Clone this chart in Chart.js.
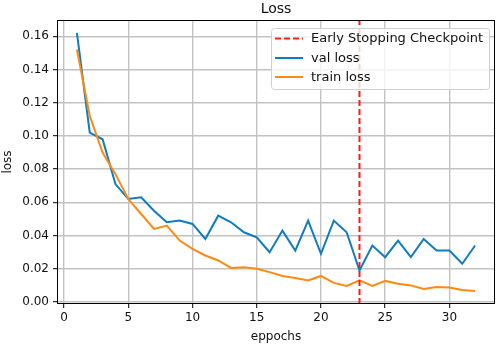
<!DOCTYPE html>
<html>
<head>
<meta charset="utf-8">
<script src="https://cdn.jsdelivr.net/npm/chart.js@4.4.1/dist/chart.umd.min.js"></script>
<style>
  html, body { margin: 0; padding: 0; background: #fff; }
  #wrap { width: 498px; height: 348px; position: relative; }
</style>
</head>
<body>
<div id="wrap"><canvas id="lossChart"></canvas></div>
<script>
// epochs 1..32
const epochs = [1,2,3,4,5,6,7,8,9,10,11,12,13,14,15,16,17,18,19,20,21,22,23,24,25,26,27,28,29,30,31,32];

const valLoss = [0.162, 0.102, 0.098, 0.071, 0.062, 0.063, 0.055, 0.048, 0.049, 0.047,
                 0.038, 0.052, 0.048, 0.042, 0.039, 0.030, 0.043, 0.031, 0.049, 0.029,
                 0.049, 0.042, 0.019, 0.034, 0.027, 0.037, 0.027, 0.038, 0.031, 0.031,
                 0.023, 0.034];

const trainLoss = [0.152, 0.112, 0.090, 0.077, 0.062, 0.053, 0.044, 0.046, 0.037, 0.032,
                   0.028, 0.025, 0.0205, 0.021, 0.020, 0.018, 0.0157, 0.0145, 0.013, 0.0157,
                   0.0115, 0.0097, 0.013, 0.0097, 0.0127, 0.011, 0.010, 0.0078, 0.009, 0.0087,
                   0.0072, 0.0066];

const stopEpoch = 23;

const xTicks = [0, 5, 10, 15, 20, 25, 30];
const yTicks = [0, 0.02, 0.04, 0.06, 0.08, 0.10, 0.12, 0.14, 0.16];
const xMin = -0.55, xMax = 33.55;
const yMin = -0.0012, yMax = 0.1698;

const font = "'DejaVu Sans', sans-serif";

// legend entries (label, color, dashed)
const legendItems = [
    ["Early Stopping Checkpoint", "#ff1a1a", true],
    ["val loss", "#0e7cc0", false],
    ["train loss", "#ff8a12", false]
];

// frame, title and legend box drawn on top
const decorations = {
    id: "decorations",
    afterDraw(chart) {
        const { ctx, chartArea: a } = chart;
        ctx.save();

        // black frame
        ctx.strokeStyle = "#000";
        ctx.lineWidth = 1;
        ctx.strokeRect(a.left + 0.5, a.top + 0.5, a.right - a.left - 1, a.bottom - a.top - 1);

        // title
        ctx.fillStyle = "#111";
        ctx.font = "14px " + font;
        ctx.textAlign = "center";
        ctx.textBaseline = "middle";
        ctx.fillText("Loss", (a.left + a.right) / 2, 9);

        // legend box
        const bx = 271, by = 28, bw = 218, bh = 61;
        ctx.beginPath();
        ctx.roundRect(bx + 0.5, by + 0.5, bw, bh, 3);
        ctx.fillStyle = "rgba(255,255,255,0.8)";
        ctx.fill();
        ctx.strokeStyle = "#d0d0d0";
        ctx.lineWidth = 1;
        ctx.stroke();

        const rows = [38.5, 58, 77];
        ctx.font = "13px " + font;
        ctx.textAlign = "left";
        legendItems.forEach(([label, color, dashed], i) => {
            ctx.beginPath();
            ctx.setLineDash(dashed ? [6, 3] : []);
            ctx.strokeStyle = color;
            ctx.lineWidth = 2;
            ctx.moveTo(275, rows[i]);
            ctx.lineTo(303, rows[i]);
            ctx.stroke();
            ctx.setLineDash([]);
            ctx.fillStyle = "#111";
            ctx.fillText(label, 311, rows[i] + 0.5);
        });

        ctx.restore();
    }
};

new Chart(document.getElementById("lossChart"), {
    type: "line",
    data: {
        datasets: [
            {
                label: legendItems[0][0],
                data: [{ x: stopEpoch, y: yMin }, { x: stopEpoch, y: yMax }],
                borderColor: legendItems[0][1],
                borderWidth: 2,
                borderDash: [6, 3],
                pointRadius: 0,
                order: 0
            },
            {
                label: legendItems[1][0],
                data: epochs.map((e, i) => ({ x: e, y: valLoss[i] })),
                borderColor: legendItems[1][1],
                borderWidth: 2,
                pointRadius: 0,
                tension: 0,
                order: 2
            },
            {
                label: legendItems[2][0],
                data: epochs.map((e, i) => ({ x: e, y: trainLoss[i] })),
                borderColor: legendItems[2][1],
                borderWidth: 2,
                pointRadius: 0,
                tension: 0,
                order: 1
            }
        ]
    },
    options: {
        responsive: true,
        maintainAspectRatio: false,
        animation: false,
        layout: { padding: { top: 20, right: 3, left: 0, bottom: 0 } },
        plugins: {
            legend: { display: false },
            title: { display: false },
            tooltip: { enabled: false }
        },
        scales: {
            x: {
                type: "linear",
                min: xMin,
                max: xMax,
                afterBuildTicks: s => { s.ticks = xTicks.map(v => ({ value: v })); },
                afterFit: s => { s.height = 44; },
                grid: { color: "#c2c2c2", lineWidth: 1.4, tickLength: 4, tickColor: "#000", tickWidth: 1 },
                border: { display: false },
                ticks: { color: "#111", font: { family: font, size: 12 }, padding: 3, maxRotation: 0, autoSkip: false },
                title: { display: true, text: "eppochs", color: "#111", font: { family: font, size: 12 }, padding: { bottom: 4 } }
            },
            y: {
                type: "linear",
                min: yMin,
                max: yMax,
                afterBuildTicks: s => { s.ticks = yTicks.map(v => ({ value: v })); },
                afterFit: s => { s.width = 57; },
                grid: { color: "#c2c2c2", lineWidth: 1.4, tickLength: 4, tickColor: "#000", tickWidth: 1 },
                border: { display: false },
                ticks: { color: "#111", font: { family: font, size: 12 }, padding: 4, autoSkip: false,
                         callback: v => v.toFixed(2) },
                title: { display: true, text: "loss", color: "#111", font: { family: font, size: 12 }, padding: { top: 1 } }
            }
        }
    },
    plugins: [decorations]
});
</script>
</body>
</html>
